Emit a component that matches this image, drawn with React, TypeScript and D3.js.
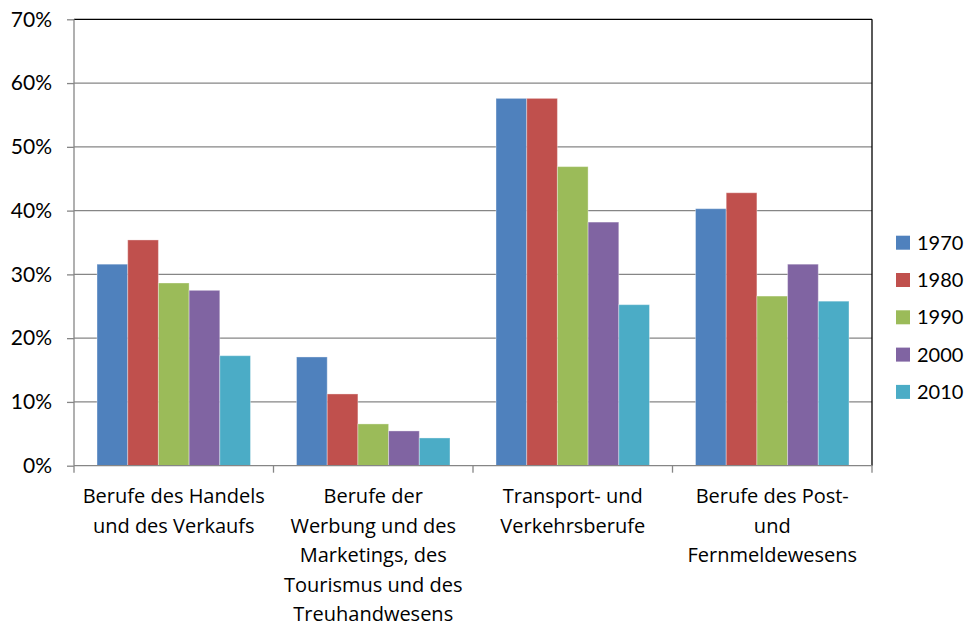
import React, { useEffect, useRef } from "react";
import * as d3 from "d3";

const categories = [
  ["Berufe des Handels", "und des Verkaufs"],
  ["Berufe der", "Werbung und des", "Marketings, des", "Tourismus und des", "Treuhandwesens"],
  ["Transport- und", "Verkehrsberufe"],
  ["Berufe des Post-", "und", "Fernmeldewesens"],
];
const years = ["1970", "1980", "1990", "2000", "2010"];
const colors = ["#4F81BD", "#C0504D", "#9BBB59", "#8064A2", "#4BACC6"];

// one array per year, values in % for the four categories
const v1970 = [31.6, 17.05, 57.6, 40.3];
const v1980 = [35.4, 11.25, 57.6, 42.8];
const v1990 = [28.65, 6.55, 46.9, 26.6];
const v2000 = [27.5, 5.45, 38.2, 31.6];
const v2010 = [17.25, 4.35, 25.25, 25.8];
const series = [v1970, v1980, v1990, v2000, v2010];

const yTicks = [0, 10, 20, 30, 40, 50, 60, 70];

const W = 968;
const H = 626;
const m = { left: 74, right: 872, top: 19.3, bottom: 465.7 };
const font = "Lato, 'Open Sans', sans-serif";
const catFont = "'Open Sans', Lato, sans-serif";

export default function App() {
  const svgRef = useRef<SVGSVGElement>(null);

  useEffect(() => {
    document.body.style.margin = "0";
    const svg = d3.select(svgRef.current);
    svg.selectAll("*").remove();

    const catKeys = categories.map((c, i) => String(i));
    const x0 = d3.scaleBand().domain(catKeys).range([m.left, m.right]).padding(0);
    const x1 = d3
      .scaleBand()
      .domain(years)
      .range([0, x0.bandwidth()])
      .paddingInner(0)
      .paddingOuter(0.75);
    const y = d3.scaleLinear().domain([0, 70]).range([m.bottom, m.top]);

    // gridlines
    svg
      .append("g")
      .selectAll("line")
      .data(yTicks.filter((t) => t > 0))
      .join("line")
      .attr("x1", m.left)
      .attr("x2", m.right)
      .attr("y1", (d) => y(d))
      .attr("y2", (d) => y(d))
      .attr("stroke", (d) => (d === 70 ? "#000" : "#868686"))
      .attr("stroke-width", 1.3);

    // right border
    svg
      .append("line")
      .attr("x1", m.right)
      .attr("x2", m.right)
      .attr("y1", m.top)
      .attr("y2", m.bottom)
      .attr("stroke", "#000")
      .attr("stroke-width", 1.3);

    // bars
    const g = svg.append("g");
    series.forEach((vals, si) => {
      g.selectAll(`.bar${si}`)
        .data(vals)
        .join("rect")
        .attr("class", `bar${si}`)
        .attr("x", (d, i) => (x0(String(i)) as number) + (x1(years[si]) as number))
        .attr("width", x1.bandwidth())
        .attr("y", (d) => y(d))
        .attr("height", (d) => y(0) - y(d))
        .attr("fill", colors[si])
        .attr("stroke", "rgba(255,255,255,0.35)")
        .attr("stroke-width", 1);
    });

    // y axis
    const yAxis = d3
      .axisLeft(y)
      .tickValues(yTicks)
      .tickSize(7)
      .tickPadding(15)
      .tickFormat((d) => `${d}%`);
    const ya = svg.append("g").attr("transform", `translate(${m.left},0)`).call(yAxis);
    ya.select(".domain").attr("stroke", "#868686").attr("stroke-width", 1.3).attr("d", `M0,${m.top}V${m.bottom}`);
    ya.selectAll(".tick line").attr("stroke", "#868686").attr("stroke-width", 1.3);
    ya.selectAll(".tick text")
      .attr("font-family", font)
      .attr("font-size", 21)
      .attr("fill", "#000");

    // x axis line + category boundary ticks
    svg
      .append("line")
      .attr("x1", m.left)
      .attr("x2", m.right)
      .attr("y1", m.bottom)
      .attr("y2", m.bottom)
      .attr("stroke", "#868686")
      .attr("stroke-width", 1.3);
    const bounds = catKeys.map((k) => x0(k) as number).concat([m.right]);
    svg
      .append("g")
      .selectAll("line")
      .data(bounds)
      .join("line")
      .attr("x1", (d) => d)
      .attr("x2", (d) => d)
      .attr("y1", m.bottom)
      .attr("y2", m.bottom + 7)
      .attr("stroke", "#868686")
      .attr("stroke-width", 1.3);

    // category labels
    const lab = svg
      .append("g")
      .selectAll("text")
      .data(categories)
      .join("text")
      .attr("text-anchor", "middle")
      .attr("font-family", catFont)
      .attr("font-size", 20)
      .attr("fill", "#000");
    lab
      .selectAll("tspan")
      .data((d, i) => d.map((line) => ({ line, i })))
      .join("tspan")
      .attr("x", (d) => (x0(String(d.i)) as number) + x0.bandwidth() / 2)
      .attr("y", (d, j) => 503 + j * 29.6)
      .text((d) => d.line);

    // legend
    const leg = svg
      .append("g")
      .selectAll("g")
      .data(years)
      .join("g")
      .attr("transform", (d, i) => `translate(896,${242.7 + i * 37.3})`);
    leg
      .append("rect")
      .attr("x", 0)
      .attr("y", -7)
      .attr("width", 14)
      .attr("height", 14)
      .attr("fill", (d, i) => colors[i]);
    leg
      .append("text")
      .attr("x", 21)
      .attr("y", 0)
      .attr("dy", "0.35em")
      .attr("font-family", font)
      .attr("font-size", 20)
      .attr("fill", "#000")
      .text((d) => d);
  }, []);

  return <svg ref={svgRef} width={W} height={H} style={{ display: "block", background: "#fff" }} />;
}
